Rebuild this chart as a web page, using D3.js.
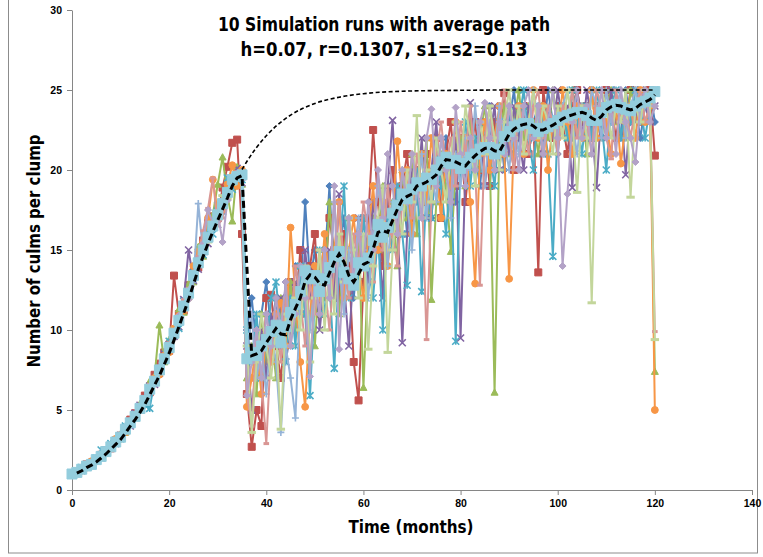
<!DOCTYPE html>
<html>
<head>
<meta charset="utf-8">
<script src="https://cdn.jsdelivr.net/npm/d3@7"></script>
<style>
  body { margin: 0; background: #fff; }
  svg { display: block; font-family: "Liberation Sans Narrow", "Arial Narrow", "DejaVu Sans Condensed", sans-serif; }
</style>
</head>
<body>
<svg id="chart" width="763" height="557"></svg>
<script>
// month index of every simulated point
const months = d3.range(0, 121);

const run1 = [1.0,1.1,1.3,1.4,1.7,1.9,2.1,2.4,2.8,3.0, 3.4,3.8,4.1,4.7,5.1,5.6,6.3,6.8,7.5,8.2, 9.0,9.7,10.6,11.4,12.4,13.3,14.2,15.1,15.9,16.6, 17.4,18.0,18.7,19.2,19.5,19.8,
  10,12,9,11,13,10,12,9,13,11, 14,12,18,13,15,12,14,19,13,15, 17,14,12,15,17,15,18,16,14,18, 20,17,19,16,20,18,21,19,17,21,
  19,22,20,18,22,20,23,21,19,22, 24,21,23,20,23,25,22,24,21,23, 24,22,25,23,21,24,23,22,25,23, 24,22,24,23,25,23,24,22,25,23, 24,22,24,25,23];
const run2 = [1.0,1.1,1.3,1.6,1.7,1.9,2.2,2.5,2.6,3.1, 3.4,3.7,4.4,4.8,5.0,5.9,6.1,7.2,7.9,8.6, 8.7,13.4,11.0,11.2,12.8,13.6,13.9,15.6,16.7,17.1, 17.0,18.9,20.2,21.7,21.9,16.0,
  6,2.7,5,4,12,12.2,9,7,10,13, 11,15,12,14,16,11,13,17,15,12, 16,14,8,5.6,13,17,22.5,18,14,17, 20,16,19,21,17,20,18,21,19,22,
  17,21,23,19,22,18,21,23,20,22, 19,23,21,24.8,22,20,23,24,21,23, 13.6,25,23,22,24,23,21,24,25,23, 24,22,24,23,25,24,22,24,23,25, 24,23,24,25,20.9];
const run3 = [1.0,1.2,1.3,1.4,1.7,1.8,2.2,2.3,2.8,2.9, 3.5,3.6,4.3,4.5,5.4,5.4,6.8,7.1,10.3,8.0, 9.4,9.6,11.3,11.1,12.9,13.0,15.2,14.6,16.9,17.2, 19.1,20.8,18.4,16.8,20.2,19.1,
  7,9,6,11,8,10,7,12,9,13, 10,14,11,13,9,14,12,18,14,11, 15,17,13,16,6.4,14,17,15,19,16, 18,14,20,17,21,16,19,22,11.9,18,
  21,19,14.9,20,22,19,23,20,22,24, 21,6.1,22,24,21,23,25,22,24,23, 21,24,22,25,23,24,22,25,23,24, 21,25,23,22,24,25,23,24,22,25, 24,23,25,24,7.4];
const run4 = [1.0,1.1,1.2,1.5,1.7,1.9,2.0,2.5,2.8,2.9, 3.4,3.9,4.0,4.8,5.3,5.5,6.5,6.6,7.3,8.5, 9.1,9.6,10.2,11.9,15.0,13.1,13.8,15.3,15.4,16.9, 16.6,18.2,18.9,19.0,20.1,19.2,
  9,5,8,10,7,11,9,12,8,10, 13,11,15,12,14,10,13,15,12,18.5, 13,9,14,17,15,13,18,16,12,19, 23.1,17,9.2,16,20,18,22,17,20,23,
  19,21,18,22,9.5,20,24.2,21,23,19, 22,24,20,23,21,24,22,20,24,22, 23,21,24,22,25,23,24,18.9,24,22, 25,23,18.9,24,22,25,23,24,19.7,24, 23,25,24,23,24];
const run5 = [1.0,1.1,1.4,1.5,1.6,2.0,2.5,2.4,2.9,3.0, 3.2,4.0,4.1,4.7,5.0,5.3,5.1,6.9,7.4,8.1, 9.3,10.0,10.1,11.8,12.1,13.9,14.5,14.7,16.2,16.0, 17.8,17.4,19.5,18.8,19.1,19.4,
  10,8,11,7,9,12,13,10,8,12, 9,14,11,5.9,12,15,11,13,7.6,14, 19,12,15,13,17,14,12,16,10,17, 15,19,16,12.8,18,20,12.4,19,17,21,
  19,16,20,9.3,21,23,19,22,20,23, 21,19,23,22,24,21,23,25,22,20, 24,23,21,14.6,23,24,22,25,23,21, 24,22,25,23,20,24,25,22,24,23, 25,24,22,24,25];
const run6 = [1.0,1.2,1.2,1.4,1.8,1.8,2.2,2.3,2.6,3.2, 3.2,3.6,4.3,4.7,5.2,5.5,6.4,7.0,7.2,8.4, 8.6,10.1,10.9,11.2,12.0,14.0,14.9,15.5,17.0,19.4, 17.3,17.5,19.1,20.3,19.0,20.0,
  5.2,7,9,6,10,8,11,11.7,9,16.4, 12,8,5.2,11,14,12,16,13,15,18, 12,15,17,14,12,16,19,15,18,14, 17,21.8,18,20,16,19,21,18,22,20,
  17,21,19,23,20,22,18,12.9,21,23, 20,22,24,21,13.2,22,24,21,23,25, 22,24,20,23,22,25,23,21,24,22, 23,25,22,24,23,21,24,20.4,23,24, 22,25,23,24,5.0];
const run7 = [1.0,1.1,1.3,1.4,1.6,1.9,2.0,2.5,2.6,3.0, 3.5,3.8,4.0,4.6,5.1,5.8,6.0,6.6,7.8,8.0, 9.0,9.5,10.7,11.3,12.5,13.0,17.9,14.8,15.6,16.3, 17.5,17.7,18.3,19.6,19.5,19.9,
  8,11,7,9,6,10,8,3.6,9,7, 4.5,12,14,10,13,11,15,12,18,14, 11,15,13,17,15,12,16,19,17,14, 18,16,20,18,15,19,21,17,20,18,
  22,20,17,21,19,22,20,24,21,19, 23,21,24,22,20,23,21,24,22,25, 23,21,24,23,22,24,25,23,21,24, 22,25,24,22,25,23,24,25,22,24, 25,23,24,25,24];
const run8 = [1.0,1.1,1.3,1.5,1.5,2.0,2.1,2.3,2.8,3.0, 3.4,3.7,4.2,4.4,5.3,5.6,6.6,6.7,7.6,8.0, 9.2,10.0,10.4,11.9,12.6,13.2,14.6,16.2,17.6,19.5, 16.5,17.0,18.8,19.3,19.9,19.5,
  6,4,10,7,2.9,9,11,8,12,10, 14,12,9,13,11,15,13,10,14,18, 14,12,16,14,18,16,13,17,15,19, 16,14,18,20,17,21,19,9.4,18,21,
  23,20,22,19,23,21,24,20,12.8,22, 24,21,23,25,22,20,24,23,21,24, 25,22,24,23,21,24,23,25,22,24, 23,21,25,24,22,20.7,25,23,24,22, 24,25,23,24,9.9];
const run9 = [1.0,1.1,1.2,1.5,1.6,1.8,2.2,2.4,2.6,3.1, 3.3,3.8,4.3,4.6,4.9,5.7,6.2,6.9,7.4,8.3, 8.8,9.9,10.5,11.6,12.2,13.5,14.0,15.1,15.5,16.4, 17.0,18.4,18.2,19.1,19.4,19.8,
  9,3.6,8,11,9,7,10,3.8,11,9, 12,10,14,8,12,15,10,14,11,16, 13,17,15,12,16,8.8,14,17,19,8.6, 15,18,16,20,18,23.4,17,20,18,22,
  20,18,21,23,20,24,22,19,23,21, 24,22,20,23,25,22,24,21,23,25, 22,24,23,21,24,22,25,23,18.6,24, 22,11.7,23,25,24,22,24,23,25,18.3, 24,23,25,24,9.4];
const run10 = [1.0,1.1,1.3,1.5,1.7,1.9,2.1,2.4,2.7,2.9, 3.3,3.9,4.2,4.5,5.0,5.6,6.3,6.8,7.5,8.1, 8.7,9.6,10.9,11.3,11.9,13.3,14.4,15.4,17.5,16.7, 17.3,15.5,18.1,19.5,19.7,19.4,
  5.9,8,10,7,11,9,12,10,13,9, 11,14,12,7.1,13,11,15,12,19,8.8, 14,17,13,16,14,18,15,20,17,21, 19,16,20,18,21,19,17,22,23.8,19,
  22,20,18,23.9,21,19,22,20,23,24.2, 22,20,23,21,24,22,20,24,25,22, 24,21,23,25,22,14,18.5,23,25,22, 24,21,23,25,22,24,21,25,23,22, 20.5,24,25,23,24];

// average path of the ten runs
const average = [1.0,1.1,1.3,1.5,1.6,1.9,2.1,2.4,2.7,3.0, 3.3,3.8,4.2,4.6,5.1,5.6,6.3,6.8,7.5,8.2, 8.9,9.8,10.6,11.5,12.3,13.4,14.2,15.0,15.8,16.5, 17.2,17.9,18.6,19.4,19.6,19.7,
  8.2,8.6,8.4,9.0,9.4,9.9,10.3,9.2,10.2,11.1, 11.6,12.4,13.7,13.2,13.4,12.4,13.2,13.9,14.6,14.9, 13.6,13.2,12.8,14.2,14.0,14.5,15.6,16.6,15.8,16.4,
  17.3,17.8,18.5,18.2,18.8,19.2,19.0,19.5,19.4,20.0, 20.5,20.8,20.4,20.6,20.1,20.4,20.8,21.0,21.3,21.4, 21.4,21.0,21.3,22.1,22.4,22.7,22.8,22.9,22.9,22.6,
  22.4,22.6,22.7,22.9,23.1,23.3,23.4,23.5,23.6,23.6, 23.4,23.1,23.1,23.6,23.9,24.0,24.1,23.9,23.8,23.7, 24.0,24.2,24.3,24.5,24.9];

// black dashed trend of the average, months 1..120
const trendMonths = d3.range(1, 121);
const trend = [1.05,1.2,1.4,1.55,1.75,2.0,2.25,2.55,2.85,3.15, 3.55,4.0,4.4,4.85,5.35,5.95,6.55,7.15,7.85,8.55,
  9.35,10.2,11.05,11.9,12.85,13.8,14.6,15.4,16.15,16.85, 17.55,18.25,19.0,19.5,19.65,13.95,8.4,8.5,8.7,9.2,
  9.65,10.1,9.75,9.7,10.65,11.35,12.0,13.05,13.45,13.3, 12.9,12.8,13.55,14.25,14.75,14.25,13.4,13.0,13.5,14.1,
  14.25,15.05,16.1,16.2,16.1,16.85,17.55,18.15,18.35,18.5, 19.0,19.1,19.25,19.45,19.7,20.25,20.65,20.6,20.5,20.35,
  20.25,20.6,20.9,21.15,21.35,21.4,21.2,21.15,21.7,22.25, 22.55,22.75,22.85,22.9,22.75,22.5,22.5,22.65,22.8,23.0,
  23.2,23.35,23.45,23.55,23.6,23.5,23.25,23.1,23.35,23.75, 23.95,24.05,24.0,23.85,23.75,23.85,24.1,24.25,24.4,24.7];

// thin dashed deterministic path (no harvest)
const detMonths = [35,36,38,40,42,45,50,55,60,70,80,90,100,110,120];
const detValues = [20.03,20.53,21.41,22.14,22.74,23.43,24.16,24.55,24.77,24.94,24.98,25,25,25,25];

const xTicks = [0,20,40,60,80,100,120,140];
const yTicks = [0,5,10,15,20,25,30];

const runs = [run1, run2, run3, run4, run5, run6, run7, run8, run9, run10];
const runColors = ["#4F81BD","#C0504D","#9BBB59","#8064A2","#4BACC6","#F79646","#95B3D7","#D99694","#C3D69B","#B3A2C7"];
const runMarkers = ["diamond","square","triangle","x","star","circle","plus","dash","bar","diamond"];

const svg = d3.select("#chart");
const x = d3.scaleLinear().domain([0, 140]).range([72, 752]);
const y = d3.scaleLinear().domain([0, 30]).range([490, 10]);

// chart frame
svg.append("rect").attr("x", 8.5).attr("y", -2).attr("width", 749).attr("height", 555)
  .attr("fill", "none").attr("stroke", "#8c8c8c").attr("stroke-width", 1);

const axisCol = "#868686";
const gx = svg.append("g").attr("transform", "translate(0,490)")
  .call(d3.axisBottom(x).tickValues(xTicks).tickSize(5).tickPadding(5).tickSizeOuter(0));
const gy = svg.append("g").attr("transform", "translate(72,0)")
  .call(d3.axisLeft(y).tickValues(yTicks).tickSize(5).tickPadding(5).tickSizeOuter(0));
[gx, gy].forEach(g => {
  g.select(".domain").attr("stroke", axisCol);
  g.selectAll(".tick line").attr("stroke", axisCol);
  g.selectAll(".tick text").attr("fill", "#000").style("font-size", "10.5px").style("font-weight", "bold")
    .style("font-family", "inherit");
});

function markerPath(type, s) {
  const h = s / 2;
  switch (type) {
    case "diamond": return `M0,${-h}L${h},0L0,${h}L${-h},0Z`;
    case "square": return `M${-h},${-h}h${s}v${s}h${-s}Z`;
    case "triangle": return `M0,${-h}L${h},${h * 0.8}L${-h},${h * 0.8}Z`;
    case "circle": return d3.symbol(d3.symbolCircle, s * s * 0.75)();
    case "x": return `M${-h},${-h}L${h},${h}M${-h},${h}L${h},${-h}`;
    case "star": return `M${-h},${-h}L${h},${h}M${-h},${h}L${h},${-h}M0,${-h}L0,${h}`;
    case "plus": return `M${-h},0L${h},0M0,${-h}L0,${h}`;
    case "dash": return `M${-h * 0.8},0L${h * 0.8},0`;
    case "bar": return `M${-h * 1.2},0L${h * 1.2},0`;
  }
}
const filled = new Set(["diamond", "square", "triangle", "circle"]);

const line = d3.line().x((d, i) => x(months[i])).y(d => y(d));
const plot = svg.append("g");

function drawSeries(values, color, mk, size, width) {
  const g = plot.append("g");
  g.append("path").datum(values).attr("d", line)
    .attr("fill", "none").attr("stroke", color).attr("stroke-width", width)
    .attr("stroke-linejoin", "round");
  g.selectAll("path.mk").data(values).join("path").attr("class", "mk")
    .attr("transform", (d, i) => `translate(${x(months[i])},${y(d)})`)
    .attr("d", markerPath(mk, size))
    .attr("fill", filled.has(mk) ? color : "none")
    .attr("stroke", color)
    .attr("stroke-width", filled.has(mk) ? 1 : (mk === "bar" || mk === "dash" ? 3 : 1.6));
}

runs.forEach((r, k) => drawSeries(r, runColors[k], runMarkers[k], 7, 2));
drawSeries(average, "#93CDDD", "square", 10, 3.5);

// deterministic path
svg.append("path").datum(detValues)
  .attr("d", d3.line().x((d, i) => x(detMonths[i])).y(d => y(d)).curve(d3.curveMonotoneX))
  .attr("fill", "none").attr("stroke", "#000").attr("stroke-width", 1.6).attr("stroke-dasharray", "4,2.5");

// trend of the average
svg.append("path").datum(trend)
  .attr("d", d3.line().x((d, i) => x(trendMonths[i])).y(d => y(d)))
  .attr("fill", "none").attr("stroke", "#000").attr("stroke-width", 3).attr("stroke-dasharray", "7,4");

// titles, squeezed to the width of the narrow original face
function label(txt, tx, ty, size, len, rot) {
  const t = svg.append("text").attr("text-anchor", "middle")
    .attr("transform", `translate(${tx},${ty})` + (rot ? ` rotate(${rot})` : ""))
    .style("font-size", size + "px").style("font-weight", "bold")
    .attr("textLength", len).attr("lengthAdjust", "spacingAndGlyphs")
    .text(txt);
  return t;
}
label("10 Simulation runs with average path", 384, 31, 19.5, 332);
label("h=0.07, r=0.1307, s1=s2=0.13", 384, 56, 19.5, 287);
label("Time (months)", 411, 533, 18.5, 125);
label("Number of culms per clump", 40, 251, 18.5, 233, -90);
</script>
</body>
</html>
